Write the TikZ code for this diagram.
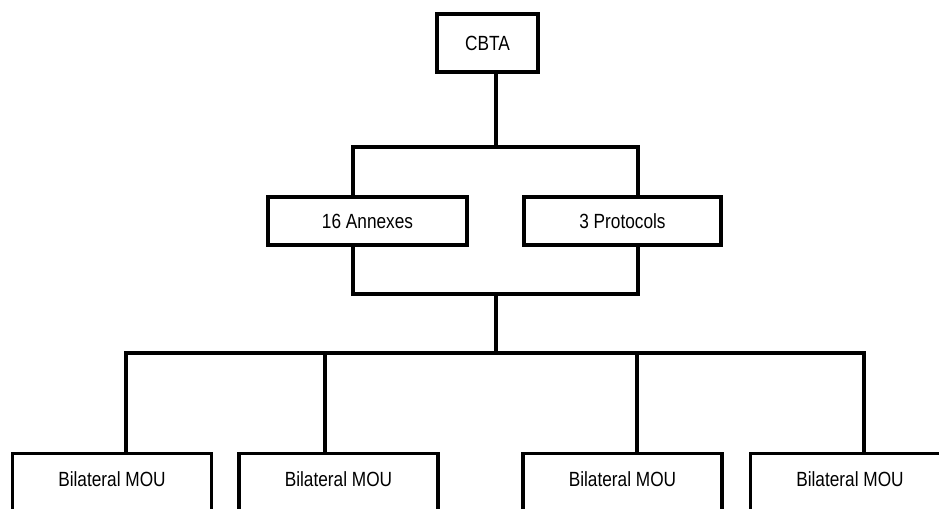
\documentclass[tikz,border=0pt]{standalone}
\usepackage{fontspec}
\setmainfont{Liberation Sans}[FakeStretch=0.84]
\begin{document}
\begin{tikzpicture}[x=0.75pt,y=-0.75pt,
  box/.style={draw, line width=2.5pt, inner sep=0pt, fill=white,
    font=\fontsize{15.4}{18}\selectfont},
  topbox/.style={box, minimum height=36pt, minimum width=149.25pt},
  moubox/.style={box, anchor=north, minimum width=149.25pt,
    text height=24.5pt, text depth=45pt},
  conn/.style={line width=2.5pt, line join=miter}]
\useasboundingbox (0,0) rectangle (939,508);
\clip (0,0) rectangle (939,508);

% boxes
\node[box, minimum width=75.75pt, minimum height=43.5pt] (cbta) at (487.5,43) {CBTA};
\node[topbox] (annex) at (367.5,221) {16 Annexes};
\node[topbox, minimum width=147.75pt] (proto) at (622.5,221) {3 Protocols};
\node[moubox] (mou1) at (112,452) {Bilateral MOU};
\node[moubox] (mou2) at (338.5,452) {Bilateral MOU};
\node[moubox] (mou3) at (622.5,452) {Bilateral MOU};
\node[moubox] (mou4) at (850,452) {Bilateral MOU};

% junction coordinates
\coordinate (j0) at (496,147);
\coordinate (a1) at (353,147);
\coordinate (a2) at (638,147);
\coordinate (b1) at (353,294);
\coordinate (b2) at (638,294);
\coordinate (m1) at (496,294);
\coordinate (m2) at (496,353);
\coordinate (c1) at (126,353);
\coordinate (c2) at (325,353);
\coordinate (c3) at (637,353);
\coordinate (c4) at (864,353);

% connectors
\draw[conn] (cbta.south -| j0) -- (j0);
\draw[conn] (annex.north -| a1) -- (a1) -- (a2) -- (proto.north -| a2);
\draw[conn] (annex.south -| b1) -- (b1) -- (b2) -- (proto.south -| b2);
\draw[conn] (m1) -- (m2);
\draw[conn] (mou1.north -| c1) -- (c1) -- (c4) -- (mou4.north -| c4);
\draw[conn] (c2) -- (mou2.north -| c2);
\draw[conn] (c3) -- (mou3.north -| c3);
\end{tikzpicture}
\end{document}
